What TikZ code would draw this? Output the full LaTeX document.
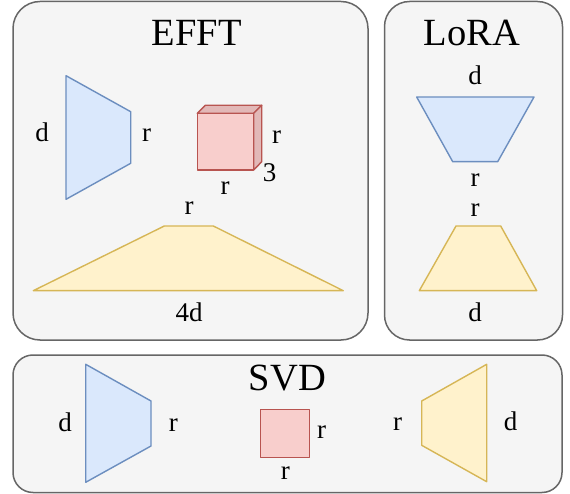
\documentclass[tikz,border=0pt]{standalone}
\usepackage{fontspec}
\setmainfont{Liberation Serif}
\definecolor{panelfill}{HTML}{F5F5F5}
\definecolor{panelline}{HTML}{666666}
\definecolor{bluefill}{HTML}{DAE8FC}
\definecolor{blueline}{HTML}{6C8EBF}
\definecolor{yellowfill}{HTML}{FFF2CC}
\definecolor{yellowline}{HTML}{D6B656}
\definecolor{redfill}{HTML}{F8CECC}
\definecolor{redshade}{HTML}{E2B8B7}
\definecolor{redline}{HTML}{B85450}
\begin{document}
\begin{tikzpicture}[x=1pt,y=-1pt,
  panel/.style={draw=panelline, fill=panelfill, line width=1.5pt},
  bluepart/.style={draw=blueline, fill=bluefill, line width=1.4pt, line join=round},
  yellowpart/.style={draw=yellowline, fill=yellowfill, line width=1.4pt, line join=round},
  redpart/.style={draw=redline, fill=redfill, line width=1.4pt, line join=round},
  redside/.style={draw=redline, fill=redshade, line width=1.4pt, line join=round},
  title/.style={anchor=base, inner sep=0pt, font=\fontsize{38.5}{44}\selectfont},
  lbl/.style={anchor=base, inner sep=0pt, font=\fontsize{27}{32}\selectfont}]
\useasboundingbox (0,0) rectangle (570,494);

% panels
\draw[panel, rounded corners=27pt] (13,1.5) rectangle (368,340);
\draw[panel, rounded corners=25pt] (384.5,1.5) rectangle (562.5,340);
\draw[panel, rounded corners=20pt] (13,355) rectangle (562,492.5);

% ---- EFFT ----
\node[title] (efftTitle) at (196.7,46) {EFFT};
\draw[bluepart] (66,75.7) -- (130.7,111.7) -- (130.7,163.3) -- (66,199.3) -- cycle;
\node[lbl] (efftD) at (42,142) {d};
\node[lbl] (efftR) at (146.7,142) {r};

% core tensor drawn as a cube
\draw[redpart] (197.3,113.3) rectangle (253.7,170);
\draw[redside] (197.3,113.3) -- (205.3,105.3) -- (261.7,105.3) -- (253.7,113.3) -- cycle;
\draw[redside] (253.7,113.3) -- (261.7,105.3) -- (261.7,161.7) -- (253.7,170) -- cycle;
\node[lbl] (cubeR) at (276.7,143.3) {r};
\node[lbl] (cubeThree) at (269.5,181.7) {3};
\node[lbl] (cubeRb) at (225,195) {r};

\draw[yellowpart] (33.3,290.7) -- (164.3,226) -- (213.3,226) -- (343.3,290.7) -- cycle;
\node[lbl] (efftYr) at (189,215) {r};
\node[lbl] (efftYd) at (189,321.7) {4d};

% ---- LoRA ----
\node[title] (loraTitle) at (471.7,45.7) {LoRA};
\node[lbl] (loraD1) at (475,85) {d};
\draw[bluepart] (416.7,97) -- (534,97) -- (497.7,161.7) -- (452.7,161.7) -- cycle;
\node[lbl] (loraR1) at (475,186.7) {r};
\node[lbl] (loraR2) at (475,216.7) {r};
\draw[yellowpart] (456,226) -- (500.7,226) -- (536.7,290.7) -- (419.3,290.7) -- cycle;
\node[lbl] (loraD2) at (475,321.7) {d};

% ---- SVD ----
\node[title] (svdTitle) at (287.5,390) {SVD};
\draw[bluepart] (85.7,364.3) -- (151,401) -- (151,446) -- (85.7,482.3) -- cycle;
\node[lbl] (svdD1) at (65,431.7) {d};
\node[lbl] (svdR1) at (173.3,431.7) {r};
\draw[redpart] (260.3,409.3) rectangle (309.3,457.7);
\node[lbl] (svdSr) at (321.7,438.3) {r};
\node[lbl] (svdSb) at (285.3,479.3) {r};
\draw[yellowpart] (421.7,401) -- (486.7,364.3) -- (486.7,481.7) -- (421.7,445.3) -- cycle;
\node[lbl] (svdR2) at (397.5,430.7) {r};
\node[lbl] (svdD2) at (510.7,430.7) {d};
\end{tikzpicture}
\end{document}
